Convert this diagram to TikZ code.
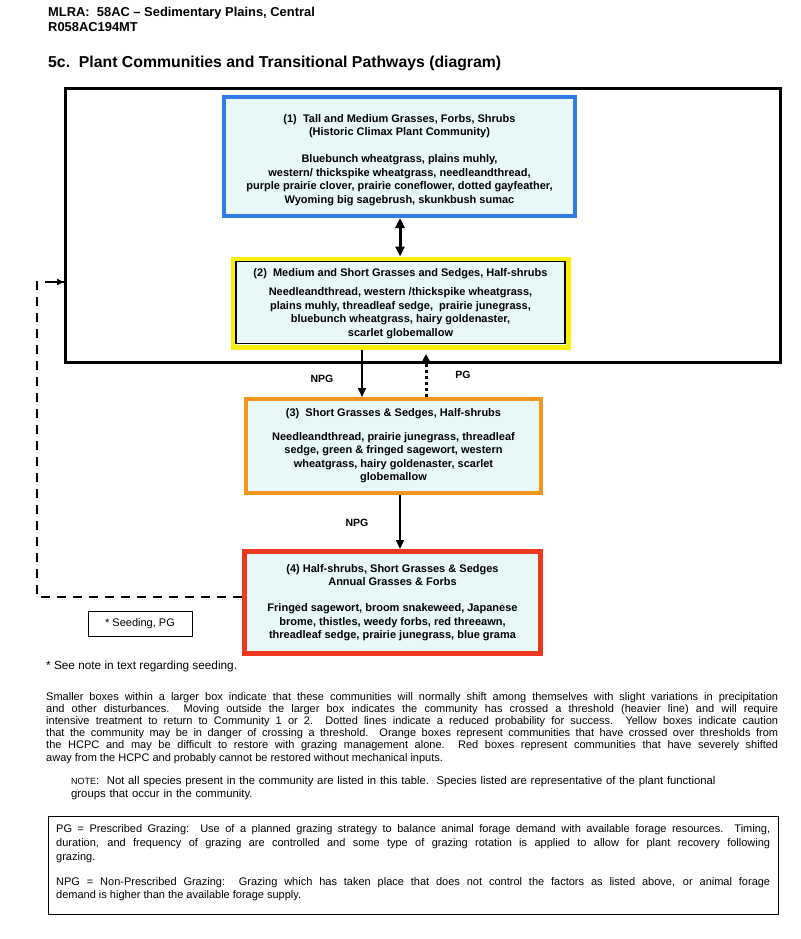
\documentclass[tikz,border=0pt]{standalone}
\usepackage{fontspec}
\setmainfont{Liberation Sans}
\usetikzlibrary{arrows.meta}
\definecolor{boxfill}{RGB}{232,248,248}
\definecolor{cblue}{RGB}{48,124,228}
\definecolor{cyellow}{RGB}{248,240,0}
\definecolor{corange}{RGB}{244,150,30}
\definecolor{cred}{RGB}{238,56,30}
\tikzset{
  commbox/.style={fill=boxfill, inner sep=0pt, align=center,
    font=\bfseries\fontsize{11}{13.5}\selectfont},
  commtext/.style={inner sep=0pt, align=center, font=\bfseries\fontsize{11}{13.6}\selectfont},
  arr/.style={line width=1.6pt, -{Triangle[length=9pt,width=8pt]}},
  lbl/.style={font=\bfseries\fontsize{10.5}{12}\selectfont, inner sep=0pt},
  para/.style={font=\fontsize{11}{12.2}\selectfont, inner sep=0pt, anchor=north west}
}
\begin{document}
\begin{tikzpicture}[x=1pt,y=-1pt]
\useasboundingbox[fill=white] (0,0) rectangle (800,939);
% header
\node[anchor=base west, inner sep=0pt, font=\bfseries\fontsize{12.9}{14}\selectfont] (h1) at (48,17) {MLRA:\ \ 58AC -- Sedimentary Plains, Central};
\node[anchor=base west, inner sep=0pt, font=\bfseries\fontsize{12.9}{14}\selectfont] (h2) at (48,31.5) {R058AC194MT};
\node[anchor=base west, inner sep=0pt, font=\bfseries\fontsize{15.8}{17}\selectfont] (title) at (48,68) {5c.\ \ Plant Communities and Transitional Pathways (diagram)};
% outer box
\node[draw=black, line width=3pt, minimum width=715pt, minimum height=274pt, inner sep=0pt] (outer) at (423,225.5) {};
% box 1
\node[fill=boxfill, draw=cblue, line width=4pt, minimum width=351pt, minimum height=119pt, inner sep=0pt] (b1) at (399.5,156.5) {};
\node[commtext] (b1t) at (399.5,160)
 {(1)\ \ Tall and Medium Grasses, Forbs, Shrubs\\ (Historic Climax Plant Community)\\[13.5pt]
  Bluebunch wheatgrass, plains muhly,\\ western/ thickspike wheatgrass, needleandthread,\\
  purple prairie clover, prairie coneflower, dotted gayfeather,\\ Wyoming big sagebrush, skunkbush sumac};
% box 2
\node[fill=boxfill, draw=cyellow, line width=5pt, minimum width=335pt, minimum height=88pt] (b2) at (400.5,303) {};
\node[commbox, draw=black, line width=1.6pt, minimum width=329pt, minimum height=82pt] (b2i) at (400.5,302.5) {};
\node[commtext] (b2t) at (400.5,303.5)
 {(2)\ \ Medium and Short Grasses and Sedges, Half-shrubs\\[6pt]
  Needleandthread, western /thickspike wheatgrass,\\ plains muhly, threadleaf sedge,\ \ prairie junegrass,\\
  bluebunch wheatgrass, hairy goldenaster,\\ scarlet globemallow};
% box 3
\node[commbox, draw=corange, line width=4pt, minimum width=295pt, minimum height=94pt] (b3) at (393.5,446)
 {(3)\ \ Short Grasses \& Sedges, Half-shrubs\\[10pt]
  Needleandthread, prairie junegrass, threadleaf\\ sedge, green \& fringed sagewort, western\\
  wheatgrass, hairy goldenaster, scarlet\\ globemallow};
% box 4
\node[commbox, draw=cred, line width=5pt, minimum width=296pt, minimum height=102pt] (b4) at (392.5,602.5)
 {(4) Half-shrubs, Short Grasses \& Sedges\\ Annual Grasses \& Forbs\\[12.5pt]
  Fringed sagewort, broom snakeweed, Japanese\\ brome, thistles, weedy forbs, red threeawn,\\
  threadleaf sedge, prairie junegrass, blue grama};
% arrows
\coordinate (xa) at (400,0);
\coordinate (xn) at (362,0);
\coordinate (xp) at (426,0);
\draw[line width=3pt, {Triangle[length=10pt,width=9pt]}-{Triangle[length=10pt,width=9pt]}] (b1.south -| xa) -- (b2.north -| xa);
\draw[arr] (b2.south -| xn) -- (b3.north -| xn);
\coordinate (pgend) at (426,354);
\draw[line width=3pt, dash pattern=on 3pt off 3pt, -{Triangle[length=9pt,width=9pt]}] (b3.north -| xp) -- (pgend);
\draw[arr] (b3.south -| xa) -- (b4.north -| xa);
\node[lbl] (l1) at (322,379) {NPG};
\node[lbl] (l2) at (463,375) {PG};
\node[lbl] (l3) at (357,523) {NPG};
% seeding pathway
\coordinate (c1) at (37,597);
\coordinate (c2) at (37,282);
\draw[line width=1.8pt, dash pattern=on 9pt off 7pt] (b4.west |- c1) -- (c1) -- (c2) -- (c2 -| outer.west);
\draw[line width=1.8pt, -{Triangle[length=7pt,width=6pt]}] (52,282) -- (c2 -| outer.west);
\node[draw=black, line width=0.8pt, minimum width=104pt, minimum height=25pt, font=\fontsize{11}{12}\selectfont] (seed) at (140,623.5) {* Seeding, PG};
% notes
\node[para, font=\fontsize{11.8}{12.2}\selectfont] (n1) at (46,661) {* See note in text regarding seeding.};
\node[para, text width=732pt, align=justify] (n2) at (46,692)
{Smaller boxes within a larger box indicate that these communities will normally shift among themselves with slight variations in precipitation\linebreak
and other disturbances.\ \ Moving outside the larger box indicates the community has crossed a threshold (heavier line) and will require\linebreak
intensive treatment to return to Community 1 or 2.\ \ Dotted lines indicate a reduced probability for success.\ \ Yellow boxes indicate caution\linebreak
that the community may be in danger of crossing a threshold.\ \ Orange boxes represent communities that have crossed over thresholds from\linebreak
the HCPC and may be difficult to restore with grazing management alone.\ \ Red boxes represent communities that have severely shifted\linebreak
away from the HCPC and probably cannot be restored without mechanical inputs.};
\node[para, text width=710pt, align=left, font=\fontsize{11.3}{12.8}\selectfont] (n3) at (71,776)
{{\fontsize{9}{12.2}\selectfont NOTE}:\ \ Not all species present in the community are listed in this table.\ \ Species listed are representative of the plant functional\\
groups that occur in the community.};
\node[draw=black, line width=0.8pt, minimum width=730pt, minimum height=98pt, inner sep=0pt] (defbox) at (413,865) {};
\node[para, text width=714pt, align=justify, font=\fontsize{11}{14}\selectfont] (d1) at (56,824)
{PG = Prescribed Grazing:\ \ Use of a planned grazing strategy to balance animal forage demand with available forage resources.\ \ Timing,\linebreak
duration, and frequency of grazing are controlled and some type of grazing rotation is applied to allow for plant recovery following\linebreak
grazing.};
\node[para, text width=714pt, align=justify, font=\fontsize{11}{13.5}\selectfont] (d2) at (56,877)
{NPG = Non-Prescribed Grazing:\ \ Grazing which has taken place that does not control the factors as listed above, or animal forage\linebreak
demand is higher than the available forage supply.};
\end{tikzpicture}
\end{document}
